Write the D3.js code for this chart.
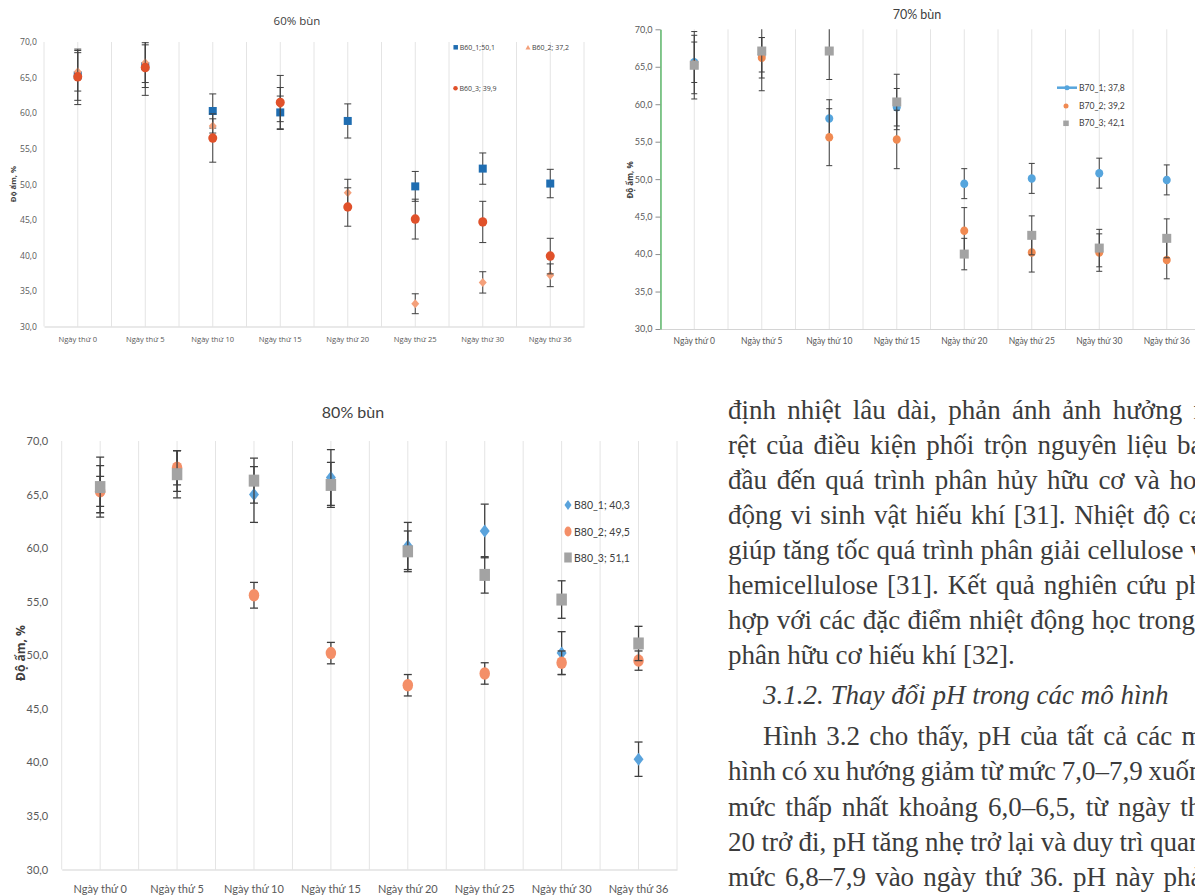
<!DOCTYPE html>
<html>
<head>
<meta charset="utf-8">
<script src="https://cdn.jsdelivr.net/npm/d3@7"></script>
<style>
  body { margin: 0; background: #fff; }
  svg { display: block; }
</style>
</head>
<body>
<svg id="page" width="1195" height="896"></svg>
<script>
// ---- shared axes ----
const days = ["Ngày thứ 0", "Ngày thứ 5", "Ngày thứ 10", "Ngày thứ 15",
              "Ngày thứ 20", "Ngày thứ 25", "Ngày thứ 30", "Ngày thứ 36"];
const yTicks = [30, 35, 40, 45, 50, 55, 60, 65, 70];

// ---- 60% sludge: moisture (%) and standard deviation ----
const b60_1    = [65.3, 66.6, 60.3, 60.1, 58.9, 49.7, 52.2, 50.1];
const b60_1Err = [3.5, 3.0, 2.4, 2.3, 2.4, 2.1, 2.2, 2.0];
const b60_2    = [65.8, 67.1, 58.2, 61.2, 48.8, 33.2, 36.2, 37.2];
const b60_2Err = [2.7, 2.8, 1.0, 2.4, 1.9, 1.4, 1.5, 1.6];
const b60_3    = [65.1, 66.4, 56.5, 61.5, 46.8, 45.1, 44.7, 39.9];
const b60_3Err = [3.9, 3.9, 3.4, 3.8, 2.7, 2.8, 2.9, 2.5];
const legend60 = ["B60_1;50,1", "B60_2; 37,2", "B60_3; 39,9"];

// ---- 70% sludge ----
const b70_1    = [65.6, 66.6, 58.1, 59.6, 49.4, 50.1, 50.8, 49.9];
const b70_1Err = [2.7, 2.3, 2.5, 2.5, 2.0, 2.0, 2.0, 2.0];
const b70_2    = [65.3, 66.2, 55.6, 55.3, 43.1, 40.2, 40.2, 39.2];
const b70_2Err = [3.9, 2.7, 3.8, 3.9, 3.1, 2.6, 2.5, 2.5];
const b70_3    = [65.2, 67.1, 67.1, 60.3, 40.0, 42.5, 40.8, 42.1];
const b70_3Err = [4.5, 5.3, 3.8, 3.7, 2.1, 2.6, 2.5, 2.6];
const legend70 = ["B70_1; 37,8", "B70_2; 39,2", "B70_3; 42,1"];

// ---- 80% sludge ----
const b80_1    = [65.5, 67.2, 65.0, 66.6, 60.2, 61.6, 50.2, 40.3];
const b80_1Err = [2.2, 1.9, 2.6, 2.6, 2.2, 2.5, 2.0, 1.6];
const b80_2    = [65.3, 67.5, 55.6, 50.2, 47.2, 48.3, 49.3, 49.5];
const b80_2Err = [1.4, 1.6, 1.2, 1.0, 1.0, 1.0, 1.1, 0.9];
const b80_3    = [65.7, 66.9, 66.3, 65.9, 59.7, 57.5, 55.2, 51.1];
const b80_3Err = [2.8, 2.2, 2.1, 2.1, 1.9, 1.7, 1.75, 1.6];
const legend80 = ["B80_1; 40,3", "B80_2; 49,5", "B80_3; 51,1"];

// ---- body text beside the figure ----
const para1 = [
  "định nhiệt lâu dài, phản ánh ảnh hưởng rõ",
  "rệt của điều kiện phối trộn nguyên liệu ban",
  "đầu đến quá trình phân hủy hữu cơ và hoạt",
  "động vi sinh vật hiếu khí [31]. Nhiệt độ cao",
  "giúp tăng tốc quá trình phân giải cellulose và",
  "hemicellulose [31]. Kết quả nghiên cứu phù",
  "hợp với các đặc điểm nhiệt động học trong ủ",
  "phân hữu cơ hiếu khí [32]."
];
const heading = "3.1.2. Thay đổi pH trong các mô hình";
const para2 = [
  "Hình 3.2 cho thấy, pH của tất cả các mô",
  "hình có xu hướng giảm từ mức 7,0–7,9 xuống",
  "mức thấp nhất khoảng 6,0–6,5, từ ngày thứ",
  "20 trở đi, pH tăng nhẹ trở lại và duy trì quanh",
  "mức 6,8–7,9 vào ngày thứ 36. pH này phản"
];

const svg = d3.select("#page");
const fmt = d => d.toFixed(1).replace(".", ",");

function drawMarker(sel, type, w, h, fill) {
  if (type === "circle") {
    sel.append("ellipse").attr("rx", w / 2).attr("ry", h / 2).attr("fill", fill);
  } else if (type === "square") {
    sel.append("rect").attr("x", -w / 2).attr("y", -h / 2)
      .attr("width", w).attr("height", h).attr("fill", fill);
  } else if (type === "diamond") {
    sel.append("path").attr("d", `M0,${-h / 2}L${w / 2},0L0,${h / 2}L${-w / 2},0Z`).attr("fill", fill);
  } else if (type === "triangle") {
    sel.append("path").attr("d", `M0,${-h / 2}L${w / 2},${h / 2}L${-w / 2},${h / 2}Z`).attr("fill", fill);
  }
}

function drawChart(o) {
  const g = svg.append("g");
  const x = d3.scaleBand().domain(days).range([o.left, o.right]).paddingInner(0).paddingOuter(0);
  const y = d3.scaleLinear().domain([30, 70]).range([o.bottom, o.top]);
  const cx = d => x(d) + x.bandwidth() / 2;

  g.append("clipPath").attr("id", o.id + "-clip")
    .append("rect").attr("x", o.left - 20).attr("y", o.top)
    .attr("width", o.right - o.left + 40).attr("height", o.bottom - o.top);

  // vertical gridlines at every band edge and band centre
  const gridX = [];
  days.forEach(d => { gridX.push(x(d)); gridX.push(cx(d)); });
  gridX.push(o.right);
  g.append("g").selectAll("line").data(gridX).join("line")
    .attr("x1", d => d).attr("x2", d => d)
    .attr("y1", y(70)).attr("y2", y(30))
    .attr("stroke", "#e4e4e4").attr("stroke-width", 1);

  // category axis
  const xa = g.append("g").attr("transform", `translate(0,${y(30)})`)
    .call(d3.axisBottom(x).tickSize(0).tickSizeOuter(0));
  xa.select(".domain").attr("stroke", "#d4d4d4").attr("stroke-width", 1.2);
  xa.selectAll("text")
    .attr("y", o.xLabelY - y(30)).attr("dy", "0.35em")
    .attr("font-family", o.font).attr("font-size", o.xLabelSize).attr("fill", "#595959");

  // value axis
  const ya = g.append("g").attr("transform", `translate(${o.left},0)`)
    .call(d3.axisLeft(y).tickValues(yTicks).tickFormat(fmt)
      .tickSize(o.yTickSize).tickSizeOuter(0).tickPadding(o.yTickPad));
  if (o.axisColor) {
    ya.select(".domain").attr("stroke", o.axisColor).attr("stroke-width", 1.2);
    ya.selectAll(".tick line").attr("stroke", "#8c8c8c");
  } else {
    ya.select(".domain").remove();
    ya.selectAll(".tick line").remove();
  }
  ya.selectAll("text").attr("font-family", o.font).attr("font-size", o.yLabelSize).attr("fill", "#595959");

  // title and axis title
  g.append("text").attr("x", o.titleX).attr("y", o.titleY)
    .attr("text-anchor", "middle").attr("dominant-baseline", "central")
    .attr("font-family", o.font).attr("font-size", o.titleSize).attr("fill", "#404040")
    .text(o.title);
  g.append("text")
    .attr("transform", `translate(${o.yTitleX},${o.yTitleY}) rotate(-90)`)
    .attr("text-anchor", "middle").attr("dominant-baseline", "central")
    .attr("font-family", o.yTitleFont).attr("font-weight", "bold")
    .attr("font-size", o.yTitleSize).attr("fill", "#404040")
    .text("Độ ẩm, %");

  // series: error bars then markers
  o.series.forEach(s => {
    const pts = days.map((d, i) => ({ d, v: s.values[i], e: s.err[i] }));
    const eg = g.append("g").attr("clip-path", `url(#${o.id}-clip)`)
      .attr("stroke", "#3f3f3f").attr("stroke-width", o.errWidth);
    const bars = eg.selectAll("g").data(pts).join("g");
    bars.append("line")
      .attr("x1", p => cx(p.d)).attr("x2", p => cx(p.d))
      .attr("y1", p => y(p.v + p.e)).attr("y2", p => y(p.v - p.e));
    [1, -1].forEach(sg => {
      bars.append("line")
        .attr("x1", p => cx(p.d) - o.cap).attr("x2", p => cx(p.d) + o.cap)
        .attr("y1", p => y(p.v + sg * p.e)).attr("y2", p => y(p.v + sg * p.e));
    });
    const mg = g.append("g");
    mg.selectAll("g").data(pts).join("g")
      .attr("transform", p => `translate(${cx(p.d)},${y(p.v)})`)
      .each(function () { drawMarker(d3.select(this), s.shape, s.w, s.h, s.color); });
  });

  // legend
  o.legend.forEach((it, i) => {
    const lg = g.append("g").attr("transform", `translate(${it.x},${it.y})`);
    if (it.line) {
      lg.append("line").attr("x1", -it.line / 2).attr("x2", it.line / 2)
        .attr("stroke", it.color).attr("stroke-width", 2.5);
    }
    drawMarker(lg, it.shape, it.w, it.h, it.color);
    lg.append("text").attr("x", it.dx).attr("dominant-baseline", "central")
      .attr("font-family", o.font).attr("font-size", o.legendSize).attr("fill", "#404040")
      .text(it.label);
  });
}

// 60% chart
drawChart({
  id: "c60", left: 44, right: 584, top: 42, bottom: 326.5,
  font: "Open Sans", title: "60% bùn", titleX: 297, titleY: 20, titleSize: 11.5,
  xLabelY: 339, xLabelSize: 7.6, yLabelSize: 8.6, yTickSize: 0, yTickPad: 7,
  yTitleX: 13, yTitleY: 184, yTitleSize: 7.8, yTitleFont: "Open Sans",
  errWidth: 1, cap: 3.5, legendSize: 7,
  series: [
    { values: b60_1, err: b60_1Err, shape: "square", w: 8, h: 8, color: "#1f6db1" },
    { values: b60_2, err: b60_2Err, shape: "diamond", w: 8, h: 9, color: "#f4a07a" },
    { values: b60_3, err: b60_3Err, shape: "circle", w: 9, h: 9.5, color: "#e0512a" }
  ],
  legend: [
    { x: 455.7, y: 47.3, shape: "square", w: 4.5, h: 4.5, color: "#1f6db1", dx: 4, label: legend60[0] },
    { x: 528, y: 47.3, shape: "triangle", w: 5, h: 4.5, color: "#f4a07a", dx: 4, label: legend60[1] },
    { x: 455.5, y: 88.3, shape: "circle", w: 4.5, h: 4.5, color: "#e0512a", dx: 4, label: legend60[2] }
  ]
});

// 70% chart
drawChart({
  id: "c70", left: 660.5, right: 1200.5, top: 29.3, bottom: 329,
  font: "Lato", title: "70% bùn", titleX: 917, titleY: 14, titleSize: 12.5,
  xLabelY: 341, xLabelSize: 8.5, yLabelSize: 9, yTickSize: 5, yTickPad: 3,
  axisColor: "#3aaa4a",
  yTitleX: 629.5, yTitleY: 180, yTitleSize: 8, yTitleFont: "Open Sans",
  errWidth: 1, cap: 3, legendSize: 8.6,
  series: [
    { values: b70_1, err: b70_1Err, shape: "circle", w: 8, h: 8.5, color: "#56a5dd" },
    { values: b70_2, err: b70_2Err, shape: "circle", w: 8, h: 8.5, color: "#f08a52" },
    { values: b70_3, err: b70_3Err, shape: "square", w: 9, h: 9, color: "#a3a3a3" }
  ],
  legend: [
    { x: 1067, y: 87.7, line: 20, shape: "circle", w: 5, h: 5, color: "#56a5dd", dx: 12, label: legend70[0] },
    { x: 1066, y: 106, shape: "circle", w: 5, h: 5, color: "#f08a52", dx: 13, label: legend70[1] },
    { x: 1066, y: 123.3, shape: "square", w: 5.5, h: 5.5, color: "#a3a3a3", dx: 13, label: legend70[2] }
  ]
});

// 80% chart
drawChart({
  id: "c80", left: 61.7, right: 677, top: 441, bottom: 869.5,
  font: "Lato", title: "80% bùn", titleX: 353, titleY: 411.5, titleSize: 16,
  xLabelY: 889, xLabelSize: 11, yLabelSize: 11, yTickSize: 0, yTickPad: 13.5,
  yTitleX: 20, yTitleY: 653, yTitleSize: 12, yTitleFont: "Open Sans",
  errWidth: 1.3, cap: 4, legendSize: 10.5,
  series: [
    { values: b80_1, err: b80_1Err, shape: "diamond", w: 10, h: 13, color: "#5aa3dc" },
    { values: b80_2, err: b80_2Err, shape: "circle", w: 10.5, h: 12.5, color: "#f48f68" },
    { values: b80_3, err: b80_3Err, shape: "square", w: 10.5, h: 12, color: "#a3a3a3" }
  ],
  legend: [
    { x: 568, y: 505, shape: "diamond", w: 7, h: 10, color: "#5aa3dc", dx: 6, label: legend80[0] },
    { x: 568, y: 531.5, shape: "circle", w: 7, h: 10, color: "#f48f68", dx: 6, label: legend80[1] },
    { x: 568, y: 557.5, shape: "square", w: 7.5, h: 10, color: "#a3a3a3", dx: 6, label: legend80[2] }
  ]
});

// ---- text column (justified line by line) ----
const textLeft = 728, textIndent = 763, textRight = 1216;
const textGroup = svg.append("g")
  .attr("font-family", "Liberation Serif").attr("font-size", 27).attr("fill", "#3b3b3b");

function justifiedLine(str, x, yBase, justify, italic) {
  const t = textGroup.append("text").attr("x", x).attr("y", yBase).text(str);
  if (italic) t.attr("font-style", "italic");
  if (justify) {
    const len = t.node().getComputedTextLength();
    const gaps = (str.match(/ /g) || []).length;
    if (gaps > 0) {
      const ws = Math.max(-3, (textRight - x - len) / gaps);
      t.attr("word-spacing", ws);
    }
  }
}

const p1Y = [419, 454, 489, 524, 559, 594, 629, 664];
para1.forEach((s, i) => justifiedLine(s, textLeft, p1Y[i], i < para1.length - 1, false));
justifiedLine(heading, textIndent, 704, false, true);
const p2Y = [745, 780, 816, 851, 886];
para2.forEach((s, i) => justifiedLine(s, i === 0 ? textIndent : textLeft, p2Y[i], true, false));
</script>
</body>
</html>
